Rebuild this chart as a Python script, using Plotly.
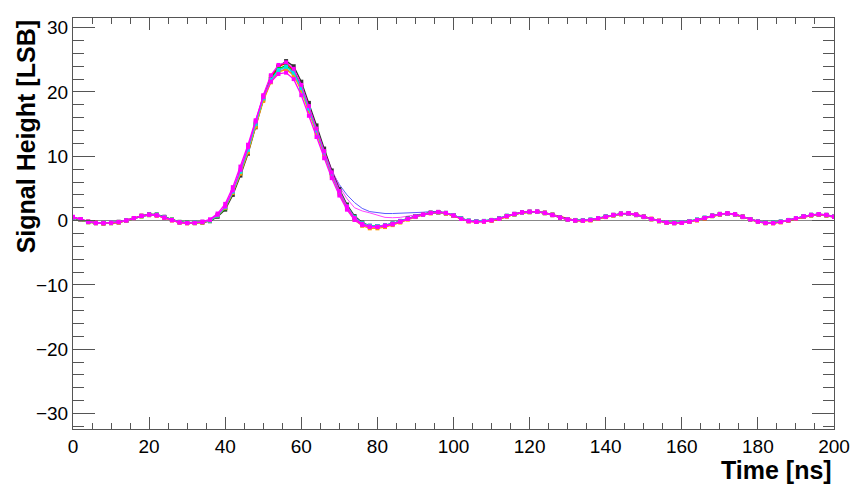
import plotly.graph_objects as go

time_ns = list(range(0, 202, 2))

sig_black = [0.4,0.1,-0.25,-0.4,-0.45,-0.4,-0.3,-0.05,0.3,0.75,1.0,0.95,0.6,0.15,-0.2,-0.35,-0.4,-0.3,
             -0.1,0.6,1.7,4.0,7.0,10.4,14.5,18.8,22.0,23.9,24.8,24.0,21.6,18.3,14.8,11.2,7.8,4.9,2.5,0.7,-0.3,-0.8,-0.9,
             -0.7,-0.45,-0.05,0.35,0.7,1.0,1.25,1.35,1.2,0.85,
             0.35,0.0,-0.1,-0.1,0.1,0.35,0.75,1.05,1.3,1.4,
             1.35,1.15,0.85,0.45,0.15,0.0,0.0,0.15,0.4,0.65,
             0.9,1.1,1.1,0.85,0.55,0.2,-0.1,-0.3,-0.4,-0.3,
             -0.1,0.15,0.45,0.8,1.05,1.1,0.9,0.55,0.15,-0.2,
             -0.4,-0.35,-0.15,0.1,0.4,0.7,0.9,0.95,0.8,0.55]

sig_red = [0.55,0.25,-0.15,-0.3,-0.35,-0.35,-0.2,0.05,0.4,0.75,0.9,0.8,0.45,0.05,-0.3,-0.4,-0.35,-0.2,
           0.0,0.8,2.0,4.5,7.6,11.0,15.1,19.3,22.4,24.0,24.4,23.4,20.9,17.6,14.1,10.6,7.3,4.5,2.2,0.4,-0.5,-0.9,-0.9,
           -0.8,-0.55,-0.15,0.25,0.6,0.9,1.15,1.3,1.15,0.75,
           0.25,-0.1,-0.2,-0.1,0.0,0.25,0.65,1.0,1.2,1.35,
           1.4,1.25,0.95,0.55,0.25,0.05,-0.05,0.05,0.3,0.55,
           0.8,1.0,1.1,0.95,0.65,0.3,0.0,-0.25,-0.35,-0.35,
           -0.2,0.05,0.35,0.7,0.95,1.1,1.0,0.65,0.25,-0.1,
           -0.3,-0.4,-0.25,0.0,0.3,0.6,0.85,1.0,0.9,0.65]

sig_green = [0.45,0.15,-0.2,-0.35,-0.4,-0.3,-0.2,0.0,0.3,0.65,0.85,0.9,0.55,0.15,-0.2,-0.3,-0.3,-0.25,
             0.0,0.7,1.9,4.3,7.4,10.8,14.9,19.0,22.0,23.6,24.1,23.2,20.8,17.6,14.2,10.7,7.4,4.6,2.3,0.5,-0.4,-0.85,-0.9,
             -0.75,-0.5,-0.1,0.3,0.7,1.0,1.2,1.25,1.1,0.8,
             0.3,-0.05,-0.15,-0.05,0.1,0.3,0.7,0.95,1.2,1.3,
             1.35,1.2,0.9,0.5,0.2,0.1,0.05,0.1,0.35,0.6,
             0.85,1.0,1.05,0.9,0.6,0.25,-0.05,-0.25,-0.3,-0.25,
             -0.1,0.1,0.4,0.7,0.95,1.05,0.95,0.6,0.25,-0.1,
             -0.3,-0.3,-0.2,0.05,0.35,0.6,0.8,0.9,0.85,0.6]

sig_blue = [0.5,0.2,-0.15,-0.3,-0.35,-0.35,-0.25,0.05,0.4,0.7,0.85,0.8,0.5,0.1,-0.2,-0.3,-0.3,-0.2,
            0.1,0.9,2.1,4.5,7.5,10.8,14.7,18.7,21.6,23.2,23.6,22.8,20.5,17.4,14.1,10.8,7.7,5.6,4.0,2.8,1.9,1.4,1.2,
            1.1,1.1,1.15,1.1,1.2,1.3,1.4,1.4,1.2,0.8,
            0.3,-0.05,-0.15,-0.1,0.05,0.3,0.7,1.0,1.25,1.35,
            1.4,1.2,0.9,0.5,0.2,0.05,0.0,0.1,0.35,0.6,
            0.85,1.05,1.1,0.9,0.6,0.25,-0.05,-0.3,-0.35,-0.3,
            -0.15,0.1,0.4,0.75,1.0,1.1,0.95,0.6,0.2,-0.15,
            -0.35,-0.35,-0.2,0.05,0.35,0.65,0.85,0.95,0.85,0.6]

sig_pink = [0.5,0.2,-0.2,-0.35,-0.4,-0.35,-0.25,0.0,0.35,0.7,0.9,0.85,0.5,0.1,-0.25,-0.35,-0.35,-0.25,
            0.0,0.8,2.0,4.4,7.4,10.8,14.8,18.9,21.8,23.4,23.9,23.1,20.8,17.7,14.4,11.1,8.0,5.3,3.4,2.0,1.5,1.2,0.8,
            0.5,0.45,0.5,0.7,0.9,1.05,1.25,1.3,1.15,0.8,
            0.3,-0.05,-0.15,-0.1,0.05,0.3,0.7,1.0,1.25,1.35,
            1.4,1.2,0.9,0.5,0.2,0.05,0.0,0.1,0.35,0.6,
            0.85,1.05,1.1,0.9,0.6,0.25,-0.05,-0.3,-0.35,-0.3,
            -0.15,0.1,0.4,0.75,1.0,1.1,0.95,0.6,0.2,-0.15,
            -0.35,-0.35,-0.2,0.05,0.35,0.65,0.85,0.95,0.85,0.6]

sig_orange = [0.5,0.15,-0.25,-0.4,-0.45,-0.4,-0.3,-0.05,0.3,0.65,0.85,0.8,0.45,0.05,-0.3,-0.4,-0.4,-0.3,
              0.0,0.8,2.0,4.3,7.3,10.6,14.6,18.6,21.5,23.1,23.5,22.6,20.2,17.0,13.6,10.2,7.0,4.2,1.9,0.1,-0.8,-1.2,-1.2,
              -1.0,-0.7,-0.3,0.15,0.55,0.9,1.15,1.25,1.1,0.75,
              0.25,-0.1,-0.2,-0.15,0.0,0.25,0.65,0.95,1.2,1.3,
              1.35,1.15,0.85,0.45,0.15,0.0,-0.05,0.05,0.3,0.55,
              0.8,1.0,1.05,0.85,0.55,0.2,-0.1,-0.35,-0.4,-0.35,
              -0.2,0.05,0.35,0.7,0.95,1.05,0.9,0.55,0.15,-0.2,
              -0.4,-0.4,-0.25,0.0,0.3,0.6,0.8,0.9,0.8,0.55]

sig_cyan = [0.45,0.2,-0.2,-0.35,-0.35,-0.3,-0.2,0.05,0.35,0.7,0.95,0.9,0.55,0.1,-0.25,-0.35,-0.3,-0.2,
            0.0,0.8,2.1,4.5,7.6,11.0,15.0,19.0,21.9,23.4,23.9,23.0,20.6,17.4,14.0,10.6,7.3,4.5,2.2,0.5,-0.4,-0.8,-0.85,
            -0.7,-0.45,-0.05,0.3,0.65,0.95,1.2,1.3,1.2,0.85,
            0.35,0.0,-0.1,-0.05,0.1,0.35,0.75,1.0,1.25,1.35,
            1.4,1.2,0.9,0.5,0.2,0.05,0.05,0.15,0.4,0.65,
            0.85,1.05,1.1,0.9,0.6,0.25,-0.05,-0.25,-0.3,-0.25,
            -0.1,0.15,0.45,0.75,1.0,1.1,0.95,0.6,0.2,-0.1,
            -0.3,-0.3,-0.15,0.1,0.4,0.7,0.9,1.0,0.9,0.65]

sig_magenta2 = [0.5,0.2,-0.2,-0.4,-0.4,-0.3,-0.2,0.05,0.35,0.7,0.95,0.85,0.5,0.1,-0.25,-0.35,-0.35,-0.25,
                0.1,0.9,2.2,4.7,7.9,11.4,15.4,19.5,22.6,24.2,24.6,23.6,21.1,17.8,14.3,10.8,7.5,4.6,2.2,0.4,-0.5,-0.9,-0.95,
                -0.75,-0.5,-0.1,0.3,0.65,0.95,1.2,1.3,1.15,0.8,
                0.3,-0.05,-0.15,-0.1,0.05,0.3,0.7,1.0,1.25,1.35,
                1.4,1.2,0.9,0.5,0.2,0.05,0.0,0.1,0.35,0.6,
                0.85,1.05,1.1,0.9,0.6,0.25,-0.05,-0.3,-0.35,-0.3,
                -0.15,0.1,0.4,0.75,1.0,1.1,0.95,0.6,0.2,-0.15,
                -0.35,-0.35,-0.2,0.05,0.35,0.65,0.85,0.95,0.85,0.6]

sig_magenta = [0.6,0.25,-0.15,-0.35,-0.4,-0.35,-0.25,0.0,0.4,0.75,0.9,0.8,0.45,0.05,-0.3,-0.4,-0.35,-0.15,
               0.2,1.1,2.6,5.2,8.4,11.8,15.6,19.2,21.6,22.8,23.0,22.0,19.5,16.3,13.0,9.7,6.6,3.9,1.7,0.1,-0.7,-1.0,-1.0,
               -0.85,-0.6,-0.2,0.25,0.6,0.95,1.2,1.35,1.2,0.8,
               0.25,-0.1,-0.2,-0.15,0.05,0.3,0.7,1.05,1.3,1.4,
               1.4,1.2,0.85,0.45,0.15,0.0,0.0,0.1,0.35,0.6,
               0.9,1.1,1.15,0.95,0.6,0.25,-0.05,-0.3,-0.4,-0.35,
               -0.15,0.1,0.4,0.75,1.0,1.15,1.0,0.6,0.2,-0.15,
               -0.35,-0.4,-0.2,0.05,0.35,0.65,0.9,1.0,0.9,0.6]

series = [
    ("blue", sig_blue, "#5a5aff", 0),
    ("pink", sig_pink, "#ff44ff", 0),
    ("black", sig_black, "#333333", 4),
    ("red", sig_red, "#ff0000", 4),
    ("green", sig_green, "#00cc00", 4),
    ("orange", sig_orange, "#ff9900", 4),
    ("cyan", sig_cyan, "#00e5e5", 4),
    ("magenta2", sig_magenta2, "#ff00ff", 4),
    ("magenta", sig_magenta, "#ff00ff", 4),
]

fig = go.Figure()
for name, vals, col, msize in series:
    fig.add_trace(go.Scatter(
        x=time_ns, y=vals, name=name,
        mode="lines+markers" if msize else "lines",
        line=dict(color=col, width=1.3 if msize else 1),
        marker=dict(color=col, size=msize, symbol="square"),
        showlegend=False,
    ))

font_main = "Liberation Sans, Arial, sans-serif"
axis_line = "#555555"

fig.update_layout(
    width=861, height=502,
    margin=dict(l=73, r=27, t=18, b=73),
    paper_bgcolor="white", plot_bgcolor="white",
    font=dict(family=font_main, size=19, color="black"),
    xaxis=dict(
        range=[0, 200], tickmode="array", tickvals=list(range(0, 201, 20)),
        showgrid=False, zeroline=False, showline=True, linecolor=axis_line, linewidth=1,
        mirror="ticks", ticks="inside", ticklen=12, tickcolor=axis_line, tickwidth=1,
        minor=dict(dtick=5, ticks="inside", ticklen=6, tickcolor=axis_line, showgrid=False),
        tickfont=dict(size=19),
    ),
    yaxis=dict(
        range=[-32.4, 31.5], tickmode="array", tickvals=[-30, -20, -10, 0, 10, 20, 30],
        showgrid=False, zeroline=True, zerolinecolor="#888888", zerolinewidth=1,
        showline=True, linecolor=axis_line, linewidth=1,
        mirror="ticks", ticks="inside", ticklen=22, tickcolor=axis_line, tickwidth=1,
        minor=dict(dtick=2, ticks="inside", ticklen=11, tickcolor=axis_line, showgrid=False),
        tickfont=dict(size=19),
    ),
    annotations=[
        dict(text="<b>Signal Height [LSB]</b>", textangle=-90, xref="paper", yref="paper",
             x=-0.062, y=1.0, xanchor="center", yanchor="top", showarrow=False,
             font=dict(size=25, family=font_main)),
        dict(text="<b>Time [ns]</b>", xref="paper", yref="paper",
             x=1.0, y=-0.1, xanchor="right", yanchor="middle", showarrow=False,
             font=dict(size=25, family=font_main)),
    ],
)

fig.write_html("out.html", config={"displayModeBar": False},
               post_script="document.body.style.margin='0';document.body.style.overflow='hidden';")
